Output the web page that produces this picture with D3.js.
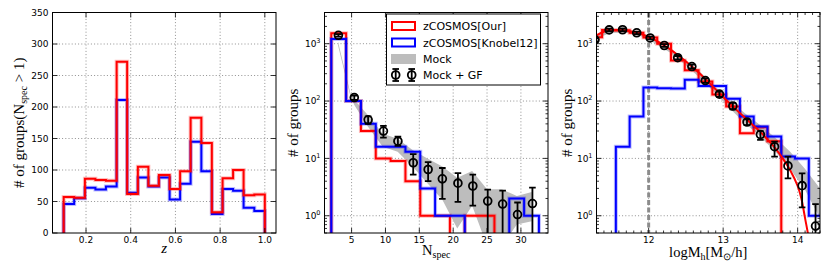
<!DOCTYPE html>
<html>
<head>
<meta charset="utf-8">
<script src="https://cdn.jsdelivr.net/npm/d3@7"></script>
<style>
  body { margin: 0; background: #fff; }
  svg { display: block; }
</style>
</head>
<body>
<svg id="fig" width="830" height="277"></svg>
<script>
// ---- panel 1: redshift histogram ----
const zEdges = [0.1, 0.147, 0.195, 0.242, 0.289, 0.337, 0.384, 0.432, 0.479, 0.526, 0.574,
                0.621, 0.668, 0.716, 0.763, 0.811, 0.858, 0.905, 0.953, 1.0];
const zOur    = [57, 56, 86, 84, 83, 272, 62, 105, 75, 92, 70, 98, 183, 143, 33, 87, 100, 60, 61];
const zKnobel = [46, 55, 72, 69, 74, 211, 64, 88, 74, 88, 53, 78, 145, 98, 30, 70, 67, 40, 35];
const zTicks = [0.2, 0.4, 0.6, 0.8, 1.0];
const countTicks = [0, 50, 100, 150, 200, 250, 300, 350];

// ---- panel 2: richness histogram ----
const nEdges = [2, 4.19, 6.38, 8.57, 10.76, 12.95, 15.14, 17.33, 19.52, 21.71, 23.9, 26.09, 28.28, 30.47, 32.66];
const nOur    = [1520, 100, 30, 10, 9, 4, 1, 1, 0, 1, 1, 0, 0, 0];
const nKnobel = [1210, 100, 40, 16, 16, 13, 3, 1, 1, 0, 0, 0, 2, 1];
const nMockX  = [3.0, 4.8, 5.4, 7.4, 9.6, 11.8, 14.0, 16.2, 18.4, 20.6, 22.8, 25.0, 27.2, 29.4, 31.6];
const nMockHi = [1080, 140, 105, 57, 27, 22, 14, 10, 7.2, 4.6, 6.0, 2.9, 2.9, 2.2, 2.6];
const nMockLo = [930, 125, 85, 36, 16, 13, 7.2, 3.7, 1.9, 0.6, 1.5, 0.3, 0.3, 0.7, 0.8];
const nGfX  = [3.05, 5.4, 7.44, 9.7, 11.84, 14.1, 16.3, 18.4, 20.7, 22.9, 25.1, 27.3, 29.5, 31.7];
const nGfY  = [1400, 115, 47, 30, 20, 8.4, 6.4, 4.4, 3.7, 3.3, 1.8, 1.6, 1.05, 1.63];
const nGfLo = [1330, 105, 40, 23, 16.5, 5.2, 4.0, 1.97, 1.75, 1.5, 0.3, 0.3, 0.3, 0.3];
const nGfHi = [1470, 125, 54, 37, 24, 11.9, 8.6, 6.8, 5.55, 5.2, 2.85, 2.74, 1.7, 3.1];
const nTicks = [5, 10, 15, 20, 25, 30];

// ---- panel 3: halo mass function ----
const mEdges = [11.19, 11.375, 11.56, 11.745, 11.93, 12.115, 12.3, 12.485, 12.67, 12.855,
                13.04, 13.225, 13.41, 13.595, 13.78, 13.965, 14.15, 14.335];
const mOur    = [1290, 1740, 1720, 1550, 1280, 1000, 510, 345, 220, 130, 80, 27.5, 35, 20, 0, 0, 0];
const mKnobel = [0, 0, 16, 54, 172, 168, 165, 235, 183, 183, 110, 54, 36, 24, 10.8, 10, 1];
const mFitX = [11.3, 11.4, 11.5, 11.6, 11.7, 11.8, 11.9, 12.0, 12.1, 12.2, 12.3, 12.4, 12.5, 12.6,
               12.7, 12.8, 12.9, 13.0, 13.1, 13.2, 13.3, 13.4, 13.5, 13.6, 13.7, 13.8, 13.9, 14.0,
               14.05, 14.1, 14.15, 14.2];
const mFitY = [1400, 1620, 1700, 1710, 1680, 1600, 1470, 1310, 1130, 950, 780, 620, 490, 380,
               290, 215, 160, 118, 88, 66, 50, 38, 29, 21, 15, 10, 6.2, 3.3, 2.0, 0.9, 0.4, 0.15];
const mMockX  = [11.3, 11.5, 11.7, 11.9, 12.1, 12.3, 12.5, 12.7, 12.9, 13.1, 13.3, 13.5, 13.7, 13.9, 14.1, 14.3];
const mMockHi = [1450, 1750, 1750, 1550, 1200, 820, 520, 310, 175, 100, 60, 38, 23, 13, 6.5, 3.0];
const mMockLo = [1250, 1550, 1550, 1350, 1000, 680, 420, 245, 135, 72, 40, 24, 13, 6.5, 2.8, 0.9];
const mGfX  = [11.28, 11.47, 11.65, 11.84, 12.02, 12.21, 12.39, 12.58, 12.76, 12.95, 13.13,
               13.32, 13.5, 13.69, 13.87, 14.06, 14.24];
const mGfY  = [1170, 1740, 1750, 1550, 1260, 930, 570, 400, 228, 132, 82, 43, 26, 16, 7.4, 3.35, 0.66];
const mGfLo = [1100, 1650, 1660, 1470, 1190, 880, 530, 370, 208, 118, 72, 38, 21, 10.7, 4.5, 1.4, 0.1];
const mGfHi = [1240, 1830, 1840, 1630, 1330, 980, 610, 430, 248, 146, 93, 48, 30, 19.6, 10.7, 5.5, 1.6];
const mTicks = [12, 13, 14];
const mCut = 12;

const decades = [1, 10, 100, 1000];
const legendLabels = ['zCOSMOS[Our]', 'zCOSMOS[Knobel12]', 'Mock', 'Mock + GF'];

const RED = '#ff0000', BLUE = '#0000ff', BAND = '#bdbdbd';
const plotTop = 12.5, plotBot = 233, pw = 223.5;
const lefts = [52.5, 324.5, 596.5];
const tickFont = 'DejaVu Sans';
const serif = 'Liberation Serif, Times New Roman, serif';

const svg = d3.select('#fig');
svg.append('rect').attr('width', 830).attr('height', 277).attr('fill', '#fff');
const defs = svg.append('defs');

function makePanel(i, xDomain, yScale) {
    const left = lefts[i];
    const x = d3.scaleLinear().domain(xDomain).range([left, left + pw]);
    const y = yScale.range([plotBot, plotTop]);
    defs.append('clipPath').attr('id', 'clip' + i)
        .append('rect').attr('x', left).attr('y', plotTop)
        .attr('width', pw).attr('height', plotBot - plotTop);
    const g = svg.append('g');
    const grid = g.append('g');
    const data = g.append('g').attr('clip-path', `url(#clip${i})`);
    const axes = g.append('g');
    return { left, x, y, grid, data, axes };
}

function drawGrid(p, xt, yt) {
    p.grid.selectAll('.gx').data(xt).join('line')
        .attr('x1', d => p.x(d)).attr('x2', d => p.x(d))
        .attr('y1', plotTop).attr('y2', plotBot);
    p.grid.selectAll('.gy').data(yt).join('line')
        .attr('x1', p.left).attr('x2', p.left + pw)
        .attr('y1', d => p.y(d)).attr('y2', d => p.y(d));
    p.grid.selectAll('line')
        .attr('stroke', '#000').attr('stroke-opacity', 0.55)
        .attr('stroke-width', 0.8).attr('stroke-dasharray', '1,2.2');
}

function drawTicks(p, xt, xMinor, yt, yMinor) {
    const a = p.axes;
    const tick = (x1, y1, x2, y2) => a.append('line')
        .attr('x1', x1).attr('y1', y1).attr('x2', x2).attr('y2', y2)
        .attr('stroke', '#000').attr('stroke-width', 0.8);
    xt.forEach(v => { const X = p.x(v); tick(X, plotBot, X, plotBot - 5); tick(X, plotTop, X, plotTop + 5); });
    xMinor.forEach(v => { const X = p.x(v); tick(X, plotBot, X, plotBot - 2.5); tick(X, plotTop, X, plotTop + 2.5); });
    yt.forEach(v => { const Y = p.y(v); tick(p.left, Y, p.left + 5, Y); tick(p.left + pw, Y, p.left + pw - 5, Y); });
    yMinor.forEach(v => { const Y = p.y(v); tick(p.left, Y, p.left + 2.5, Y); tick(p.left + pw, Y, p.left + pw - 2.5, Y); });
    a.append('rect').attr('x', p.left).attr('y', plotTop).attr('width', pw).attr('height', plotBot - plotTop)
        .attr('fill', 'none').attr('stroke', '#000').attr('stroke-width', 1);
}

function xLabels(p, xt, fmt) {
    p.axes.selectAll('.xl').data(xt).join('text')
        .attr('x', d => p.x(d)).attr('y', 242.5)
        .attr('text-anchor', 'middle').attr('font-family', tickFont).attr('font-size', 9)
        .text(fmt);
}

function yLabelsLinear(p, yt) {
    p.axes.selectAll('.yl').data(yt).join('text')
        .attr('x', p.left - 4).attr('y', d => p.y(d) + 3.3)
        .attr('text-anchor', 'end').attr('font-family', tickFont).attr('font-size', 9)
        .text(d => d);
}

function yLabelsLog(p) {
    decades.forEach(v => {
        const t = p.axes.append('text')
            .attr('x', p.left - 4).attr('y', p.y(v) + 3.3)
            .attr('text-anchor', 'end').attr('font-family', tickFont).attr('font-size', 9);
        t.append('tspan').text('10');
        t.append('tspan').attr('dy', -4).attr('font-size', 6.5).text(Math.round(Math.log10(v)));
    });
}

function logMinor(y) {
    const [lo, hi] = y.domain();
    const out = [];
    for (let e = -1; e <= 4; e++) {
        for (let k = 2; k <= 9; k++) {
            const v = k * Math.pow(10, e);
            if (v >= lo && v <= hi) out.push(v);
        }
    }
    return out;
}

function stepPoints(edges, vals, floor) {
    const pts = [[edges[0], floor]];
    vals.forEach((v, i) => {
        const h = v > 0 ? v : floor;
        pts.push([edges[i], h], [edges[i + 1], h]);
    });
    pts.push([edges[edges.length - 1], floor]);
    return pts;
}

function drawStep(p, edges, vals, color, floor) {
    const line = d3.line().x(d => p.x(d[0])).y(d => p.y(d[1]));
    const pts = stepPoints(edges, vals, floor);
    p.data.append('path').attr('d', line(pts)).attr('fill', 'none')
        .attr('stroke', color).attr('stroke-opacity', 0.25).attr('stroke-width', 4);
    p.data.append('path').attr('d', line(pts)).attr('fill', 'none')
        .attr('stroke', color).attr('stroke-width', 2).attr('stroke-linejoin', 'miter');
}

function drawBand(p, xs, lo, hi) {
    const area = d3.area().x(d => p.x(d.x)).y0(d => p.y(d.lo)).y1(d => p.y(d.hi));
    const rows = xs.map((v, i) => ({ x: v, lo: lo[i], hi: hi[i] }));
    p.data.append('path').attr('d', area(rows)).attr('fill', BAND).attr('stroke', 'none');
}

function drawPoints(p, xs, ys, lo, hi) {
    const g = p.data.append('g').attr('stroke', '#000').attr('stroke-width', 1.8);
    xs.forEach((v, i) => {
        const X = p.x(v);
        g.append('line').attr('x1', X).attr('x2', X).attr('y1', p.y(lo[i])).attr('y2', p.y(hi[i]));
        g.append('line').attr('x1', X - 3.3).attr('x2', X + 3.3).attr('y1', p.y(lo[i])).attr('y2', p.y(lo[i]));
        g.append('line').attr('x1', X - 3.3).attr('x2', X + 3.3).attr('y1', p.y(hi[i])).attr('y2', p.y(hi[i]));
        g.append('circle').attr('cx', X).attr('cy', p.y(ys[i])).attr('r', 3.9).attr('fill', 'none');
    });
}

// ===== panel 1 =====
const p1 = makePanel(0, [0.05, 1.05], d3.scaleLinear().domain([0, 350]));
drawGrid(p1, zTicks, countTicks.slice(1, -1));
drawStep(p1, zEdges, zKnobel, BLUE, 0);
drawStep(p1, zEdges, zOur, RED, 0);
drawTicks(p1, zTicks, [], countTicks, []);
xLabels(p1, zTicks, d => d.toFixed(1));
yLabelsLinear(p1, countTicks);

const yl1 = svg.append('text')
    .attr('transform', `translate(23.5,${(plotTop + plotBot) / 2}) rotate(-90)`)
    .attr('text-anchor', 'middle').attr('font-family', serif).attr('font-size', 15);
yl1.append('tspan').text('# of groups(N');
yl1.append('tspan').attr('dy', 3).attr('font-size', 10).text('spec');
yl1.append('tspan').attr('dy', -3).text(' > 1)');

svg.append('text').attr('x', lefts[0] + pw / 2).attr('y', 252.5)
    .attr('text-anchor', 'middle').attr('font-family', serif).attr('font-style', 'italic')
    .attr('font-size', 15).text('z');

// ===== panel 2 =====
const p2 = makePanel(1, [1, 34], d3.scaleLog().domain([0.5, 3500]));
drawGrid(p2, nTicks, decades);
drawBand(p2, nMockX, nMockLo, nMockHi);
drawStep(p2, nEdges, nOur, RED, 0.05);
drawStep(p2, nEdges, nKnobel, BLUE, 0.05);
drawPoints(p2, nGfX, nGfY, nGfLo, nGfHi);
drawTicks(p2, nTicks, [], decades, logMinor(p2.y));
xLabels(p2, nTicks, d => d);
yLabelsLog(p2);

svg.append('text')
    .attr('transform', `translate(298.4,${(plotTop + plotBot) / 2}) rotate(-90)`)
    .attr('text-anchor', 'middle').attr('font-family', serif).attr('font-size', 15)
    .text('# of groups');

const xl2 = svg.append('text').attr('x', lefts[1] + pw / 2).attr('y', 254.5)
    .attr('text-anchor', 'middle').attr('font-family', serif).attr('font-size', 14.5);
xl2.append('tspan').text('N');
xl2.append('tspan').attr('dy', 3).attr('font-size', 10).text('spec');

// legend
const lg = svg.append('g');
lg.append('rect').attr('x', 386.5).attr('y', 14).attr('width', 154).attr('height', 71)
    .attr('fill', '#fff').attr('stroke', '#000').attr('stroke-width', 1);
const rowY = [26, 42.5, 59, 75];
lg.append('rect').attr('x', 392).attr('y', rowY[0] - 4).attr('width', 23).attr('height', 8)
    .attr('fill', 'none').attr('stroke', RED).attr('stroke-width', 2);
lg.append('rect').attr('x', 392).attr('y', rowY[1] - 4).attr('width', 23).attr('height', 8)
    .attr('fill', 'none').attr('stroke', BLUE).attr('stroke-width', 2);
lg.append('rect').attr('x', 391).attr('y', rowY[2] - 5).attr('width', 25).attr('height', 10)
    .attr('fill', BAND);
[395.7, 411.7].forEach(X => {
    const m = lg.append('g').attr('stroke', '#000').attr('stroke-width', 1.8).attr('fill', 'none');
    m.append('line').attr('x1', X).attr('x2', X).attr('y1', rowY[3] - 6).attr('y2', rowY[3] + 6);
    m.append('line').attr('x1', X - 3.3).attr('x2', X + 3.3).attr('y1', rowY[3] - 6).attr('y2', rowY[3] - 6);
    m.append('line').attr('x1', X - 3.3).attr('x2', X + 3.3).attr('y1', rowY[3] + 6).attr('y2', rowY[3] + 6);
    m.append('circle').attr('cx', X).attr('cy', rowY[3]).attr('r', 3.9);
});
legendLabels.forEach((t, i) => {
    lg.append('text').attr('x', 423).attr('y', rowY[i] + 4)
        .attr('font-family', tickFont).attr('font-size', 11).text(t);
});

// ===== panel 3 =====
const p3 = makePanel(2, [11.3, 14.3], d3.scaleLog().domain([0.5, 3500]));
drawGrid(p3, mTicks, decades);
drawBand(p3, mMockX, mMockLo, mMockHi);
p3.data.append('line')
    .attr('x1', p3.x(mCut)).attr('x2', p3.x(mCut)).attr('y1', plotTop).attr('y2', plotBot)
    .attr('stroke', '#8c8c8c').attr('stroke-width', 3).attr('stroke-dasharray', '5,2.5');
drawStep(p3, mEdges, mOur, RED, 0.05);
drawStep(p3, mEdges, mKnobel, BLUE, 0.05);
p3.data.append('path')
    .attr('d', d3.line().curve(d3.curveCatmullRom).x(d => p3.x(d[0])).y(d => p3.y(d[1]))(mFitX.map((v, i) => [v, mFitY[i]])))
    .attr('fill', 'none').attr('stroke', RED).attr('stroke-width', 2);
drawPoints(p3, mGfX, mGfY, mGfLo, mGfHi);
const mMinor = d3.range(11.4, 14.3, 0.1).filter(v => Math.abs(v - Math.round(v)) > 0.01);
drawTicks(p3, mTicks, mMinor, decades, logMinor(p3.y));
xLabels(p3, mTicks, d => d);
yLabelsLog(p3);

svg.append('text')
    .attr('transform', `translate(571.5,${(plotTop + plotBot) / 2}) rotate(-90)`)
    .attr('text-anchor', 'middle').attr('font-family', serif).attr('font-size', 15)
    .text('# of groups');

const xl3 = svg.append('text').attr('x', lefts[2] + pw / 2).attr('y', 256.5)
    .attr('text-anchor', 'middle').attr('font-family', serif).attr('font-size', 14.5);
xl3.append('tspan').text('logM');
xl3.append('tspan').attr('dy', 3).attr('font-size', 10).text('h');
xl3.append('tspan').attr('dy', -3).text('[M');
xl3.append('tspan').attr('dy', 3).attr('font-size', 10).text('\u2299');
xl3.append('tspan').attr('dy', -3).text('/h]');
</script>
</body>
</html>
